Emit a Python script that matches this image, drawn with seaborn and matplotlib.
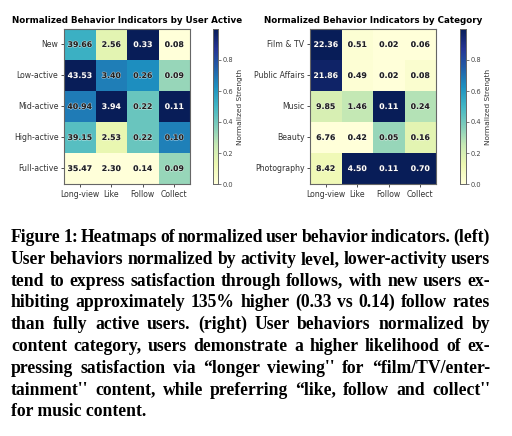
import numpy as np
import pandas as pd
import seaborn as sns
import matplotlib
matplotlib.use('Agg')
import matplotlib.pyplot as plt
import matplotlib.patheffects as pe

# data
behaviors = ['Long-view', 'Like', 'Follow', 'Collect']
user_levels = ['New', 'Low-active', 'Mid-active', 'High-active', 'Full-active']
user_vals = [[39.66, 2.56, 0.33, 0.08],
             [43.53, 3.40, 0.26, 0.09],
             [40.94, 3.94, 0.22, 0.11],
             [39.15, 2.53, 0.22, 0.10],
             [35.47, 2.30, 0.14, 0.09]]
categories = ['Film & TV', 'Public Affairs', 'Music', 'Beauty', 'Photography']
cat_vals = [[22.36, 0.51, 0.02, 0.06],
            [21.86, 0.49, 0.02, 0.08],
            [9.85, 1.46, 0.11, 0.24],
            [6.76, 0.42, 0.05, 0.16],
            [8.42, 4.50, 0.11, 0.70]]

caption_lines = [
    "Figure 1: Heatmaps of normalized user behavior indicators. (left)",
    "User behaviors normalized by activity level, lower-activity users",
    "tend to express satisfaction through follows, with new users ex-",
    "hibiting approximately 135% higher (0.33 vs 0.14) follow rates",
    "than fully active users. (right) User behaviors normalized by",
    "content category, users demonstrate a higher likelihood of ex-",
    "pressing satisfaction via \u201clonger viewing'' for \u201cfilm/TV/enter-",
    "tainment'' content, while preferring \u201clike, follow and collect''",
    "for music content.",
]

W, H = 512, 436
fig = plt.figure(figsize=(W / 100, H / 100), dpi=100)


def px_rect(x0, y0, x1, y1):
    return [x0 / W, 1 - y1 / H, (x1 - x0) / W, (y1 - y0) / H]


def draw(vals, rows, ax_rect, cb_rect, title):
    df = pd.DataFrame(vals, index=rows, columns=behaviors)
    norm = (df - df.min()) / (df.max() - df.min())
    ax = fig.add_axes(px_rect(*ax_rect))
    cax = fig.add_axes(px_rect(*cb_rect))
    sns.heatmap(norm, ax=ax, cbar_ax=cax, cmap='YlGnBu', vmin=0, vmax=1,
                annot=False, cbar_kws={'ticks': [0, 0.2, 0.4, 0.6, 0.8]})
    for i in range(len(rows)):
        for j in range(len(behaviors)):
            v = norm.iloc[i, j]
            if v > 0.75:
                col, stroke = 'white', '#1a2550'
            else:
                col, stroke = '#222222', (1, 1, 1, 0.6)
            ax.text(j + 0.5, i + 0.5, '%.2f' % df.iloc[i, j], ha='center', va='center',
                    fontsize=5.6, fontweight='bold', color=col,
                    path_effects=[pe.withStroke(linewidth=0.8, foreground=stroke)])
    ax.set_title(title, fontsize=6.3, fontweight='bold', pad=4)
    ax.tick_params(labelsize=5.6, length=2.5, width=0.6, colors='#333333', pad=1.5)
    ax.set_yticklabels(rows, rotation=0)
    ax.set_xticklabels(behaviors, rotation=0)
    for s in ax.spines.values():
        s.set_visible(True)
        s.set_color('#666666')
        s.set_linewidth(0.8)
    cax.tick_params(labelsize=4.8, length=2, width=0.5, colors='#444444', pad=1)
    cax.set_ylabel('Normalized Strength', fontsize=5.3, color='#333333', labelpad=3)
    for s in cax.spines.values():
        s.set_visible(True)
        s.set_color('#666666')
        s.set_linewidth(0.6)


draw(user_vals, user_levels, (64, 29, 190, 184), (213, 29, 218, 184),
     'Normalized Behavior Indicators by User Active')
draw(cat_vals, categories, (310, 29, 436, 184), (460, 29, 466, 184),
     'Normalized Behavior Indicators by Category')

# caption, justified line by line (baseline aligned)
fig.canvas.draw()
renderer = fig.canvas.get_renderer()
x_left, x_right = 11 / W, 490 / W
font = dict(family='Liberation Serif', fontweight='bold', fontsize=12.7, color='black')
for k, line in enumerate(caption_lines):
    y = 1 - (242 + k * 21.8) / H
    words = line.split(' ')
    if k == len(caption_lines) - 1:
        fig.text(x_left, y, line, ha='left', va='baseline', **font)
        continue
    texts = [fig.text(0, y, w, ha='left', va='baseline', **font) for w in words]
    widths = [t.get_window_extent(renderer).width / W for t in texts]
    gap = (x_right - x_left - sum(widths)) / (len(words) - 1)
    x = x_left
    for t, w in zip(texts, widths):
        t.set_x(x)
        x += w + gap

fig.savefig('out.png', dpi=100)
